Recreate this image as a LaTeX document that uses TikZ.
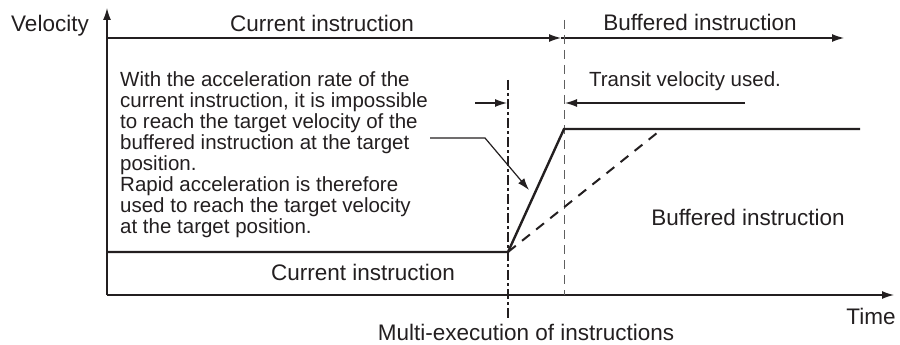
\documentclass[tikz,border=0pt]{standalone}
\usepackage{fontspec}
\setmainfont{Liberation Sans}
\usepackage{tikz}
\usetikzlibrary{arrows.meta,positioning,calc}
\definecolor{inkblack}{RGB}{35,31,32}
\definecolor{guidegray}{RGB}{95,95,95}
\tikzset{
  lbl/.style={font=\fontsize{22.5}{24}\selectfont,text=inkblack,inner sep=0pt,anchor=base},
  note/.style={font=\fontsize{20.5}{21}\selectfont,text=inkblack,inner sep=0pt,align=left,anchor=north west},
  axisarr/.style={-{Latex[length=12pt,width=8pt]},draw=inkblack,line width=1.3pt},
  spanarr/.style={-{Latex[length=12pt,width=8pt]},draw=inkblack,line width=1.2pt},
  prof/.style={draw=inkblack,line width=2.4pt},
  slowprof/.style={draw=inkblack,line width=2pt,dash pattern=on 10pt off 8pt},
  guide/.style={draw=guidegray,line width=1pt,dash pattern=on 9pt off 6pt},
  multiline/.style={draw=inkblack,line width=1.8pt,dash pattern=on 10pt off 3pt on 3pt off 3pt},
  lead/.style={-{Latex[length=12pt,width=8pt]},draw=inkblack,line width=1.2pt}
}

\begin{document}
\begin{tikzpicture}[x=1pt,y=-1pt]
  \useasboundingbox (0,0) rectangle (900,345);
  % axes
  \coordinate (O) at (107,295);
  \coordinate (vtip) at (107,8);
  \coordinate (ttip) at (894,295);
  \draw[axisarr] (O) -- (vtip);
  \draw[axisarr] (O) -- (ttip);
  \node[lbl] (vel) at (50,32) {Velocity};
  \node[lbl] (time) at (871,324) {Time};
  % instruction spans
  \coordinate (s0) at (107,38);
  \coordinate (s1) at (561,38);
  \coordinate (s2) at (844,38);
  \draw[spanarr] (s0) -- (s1);
  \draw[spanarr] (s1) -- (s2);
  \node[lbl] (curtop) at (322,32) {Current instruction};
  \node[lbl] (buftop) at (700,31) {Buffered instruction};
  % guide lines
  \coordinate (g0) at (564,20);
  \coordinate (g1) at (564,295);
  \coordinate (m0) at (508,80);
  \coordinate (m1) at (508,320);
  \draw[guide] (g0) -- (g1);
  \draw[multiline] (m0) -- (m1);
  \node[lbl] (multi) at (526,340) {Multi-execution of instructions};
  % velocity profiles
  \coordinate (c0) at (107,252);
  \coordinate (cm) at (508,252);
  \coordinate (r1) at (564,129);
  \coordinate (r2) at (860,129);
  \coordinate (d1) at (662,129);
  \draw[slowprof] (cm) -- (d1);
  \draw[prof] (c0) -- (cm) -- (r1) -- (r2);
  \node[lbl] (curbot) at (363,280) {Current instruction};
  \node[lbl] (bufmid) at (748,225) {Buffered instruction};
  % notes
  \node[note] (expl) at (120,71) {With the acceleration rate of the\\current instruction, it is impossible\\to reach the target velocity of the\\buffered instruction at the target\\position.\\Rapid acceleration is therefore\\used to reach the target velocity\\at the target position.};
  \coordinate (l0) at (430,138);
  \coordinate (l1) at (485,138);
  \coordinate (l2) at (529,190);
  \draw[lead] (l0) -- (l1) -- (l2);
  \node[note,font=\fontsize{20.5}{21}\selectfont,anchor=base] (transit) at (685,87) {Transit velocity used.};
  \coordinate (a0) at (475,103);
  \coordinate (a1) at (507,103);
  \coordinate (b0) at (745,103);
  \coordinate (b1) at (565,103);
  \draw[lead] (a0) -- (a1);
  \draw[lead] (b0) -- (b1);
\end{tikzpicture}
\end{document}
